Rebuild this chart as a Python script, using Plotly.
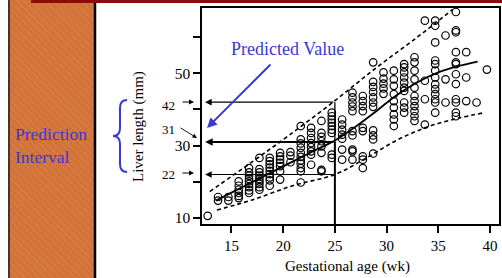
import plotly.graph_objects as go

W, H = 502, 278

# ---------------- data ----------------
scatter_weeks = [12.7, 13.7, 14.7, 15.7, 16.7, 17.7, 18.7, 19.7, 20.7, 21.7, 22.7, 23.7, 24.7, 25.7,
                 26.7, 27.7, 28.7, 29.7, 30.7, 31.7, 32.7, 33.7, 34.7, 35.7, 36.7, 37.7, 38.7, 39.7]
scatter_lengths = [
    [10.6],
    [15.8, 14.8],
    [15.8, 14.8],
    [20.1, 18.9, 17.8, 16.9, 16.1, 15.5],
    [23.8, 22.6, 21.7, 20.8, 20.1, 19.4, 18.5, 17.6, 16.9],
    [26.6, 23.5, 22.6, 21.7, 20.8, 20.1, 19.4, 18.5, 17.8],
    [26.6, 25.7, 24.8, 23.9, 23.0, 22.1, 21.2, 20.4, 18.9],
    [28.0, 27.0, 26.1, 25.2, 24.3, 22.9, 20.6],
    [28.2, 27.2, 25.4],
    [35.4, 31.7, 30.6, 29.4, 28.0, 26.9, 25.9, 25.0, 23.8, 22.9, 19.8],
    [34.9, 33.5, 32.1, 30.7, 29.6, 28.4, 27.5, 24.7],
    [36.8, 33.5, 32.4, 31.2, 29.8, 28.0, 23.3, 22.9],
    [39.1, 38.1, 37.2, 36.3, 35.4, 34.4, 33.5, 27.5, 26.6],
    [37.2, 35.8, 34.4, 33.0, 31.9, 28.9, 26.1],
    [44.6, 43.3, 41.9, 40.8, 39.5, 34.0, 32.8, 28.9, 28.4, 26.1],
    [43.7, 42.3, 40.9, 39.5, 34.9, 34.0, 27.0, 26.1, 23.8],
    [53.0, 47.6, 46.2, 44.8, 43.3, 41.9, 40.7, 34.2, 32.8, 31.7, 27.8],
    [50.2, 48.5, 47.1, 45.8, 44.3],
    [50.7, 48.3, 46.5, 44.2, 42.3, 40.5, 38.6, 37.2, 35.4],
    [52.5, 51.6, 50.2, 48.8, 47.4, 46.0, 45.1, 41.9, 40.5, 39.1],
    [54.4, 53.0, 50.7, 48.3, 46.0, 43.7, 42.3, 40.9, 39.5, 38.1, 36.8],
    [64.5, 47.9, 42.8, 35.8],
    [64.5, 63.1, 58.5, 53.5, 52.5, 50.7, 48.8, 46.9, 45.6, 44.2, 42.8, 41.9, 39.1],
    [60.4, 48.3, 41.9],
    [66.9, 61.8, 61.3, 55.8, 53.0, 52.5, 49.7, 47.0, 42.8, 41.9, 39.1, 38.1],
    [55.8, 48.8, 42.3],
    [41.9],
    [51.0],
]

fit_weeks = [13.5, 15, 17, 19, 21, 23, 25, 27, 29, 31, 33, 35, 37, 38.8]
fit_mm = [14.8, 17.0, 19.9, 22.8, 25.7, 28.6, 31.4, 35.2, 39.5, 44.0, 47.5, 50.2, 52.0, 53.2]

upper_weeks = [12.9, 17, 20.5, 25, 29, 33, 36.4]
upper_mm = [17.3, 25.5, 32.7, 42.4, 51.5, 60.0, 67.6]

lower_weeks = [13.6, 17, 21, 25, 28, 31, 34, 37, 39.3]
lower_mm = [12.2, 15.0, 19.0, 22.0, 26.5, 31.5, 35.2, 37.6, 39.0]

pred_week = 25
pred_value = 31
pred_low = 22
pred_high = 42

x_ticks = [15, 20, 25, 30, 35, 40]
y_ticks = [10, 20, 30, 40, 50, 60]
y_ticktext = ["10", "", "30", "", "50", ""]

# ---------------- helpers ----------------
def P(px):
    return px / W

def Q(py):
    return 1 - py / H

SERIF = "Liberation Serif, Times New Roman, serif"
BLUE = "#3a3ad2"

xs, ys = [], []
for wk, vals in zip(scatter_weeks, scatter_lengths):
    for v in vals:
        xs.append(wk)
        ys.append(v)

fig = go.Figure()

# hatched orange side panel (bar on a hidden axis)
fig.add_trace(go.Bar(x=[0], y=[1], width=[1], xaxis="x2", yaxis="y2",
                     marker=dict(color="#d2733a", line=dict(width=0),
                                 pattern=dict(shape="\\", fgcolor="#eab08a", fgopacity=0.45,
                                              size=5, solidity=0.12)),
                     hoverinfo="skip"))

# prediction bands
fig.add_trace(go.Scatter(x=upper_weeks, y=upper_mm, mode="lines", line_shape="spline",
                         line=dict(color="black", width=1.6, dash="4px,3px"), hoverinfo="skip"))
fig.add_trace(go.Scatter(x=lower_weeks, y=lower_mm, mode="lines", line_shape="spline",
                         line=dict(color="black", width=1.6, dash="4px,3px"), hoverinfo="skip"))
# fitted curve
fig.add_trace(go.Scatter(x=fit_weeks, y=fit_mm, mode="lines", line_shape="spline",
                         line=dict(color="black", width=1.8), hoverinfo="skip"))
# scatter points
fig.add_trace(go.Scatter(x=xs, y=ys, mode="markers",
                         marker=dict(symbol="circle-open", size=7.5, color="black",
                                     line=dict(width=1.2, color="black"))))

# vertical guide at predicted week
fig.add_trace(go.Scatter(x=[pred_week, pred_week], y=[8.0, pred_value], mode="lines",
                         line=dict(color="black", width=2), hoverinfo="skip"))
fig.add_trace(go.Scatter(x=[pred_week, pred_week], y=[pred_value, pred_high], mode="lines",
                         line=dict(color="black", width=1.3), hoverinfo="skip"))

annotations = []
# horizontal arrows from x=25 back to the y axis
for val, lw in [(pred_high, 1.1), (pred_value, 1.9), (pred_low, 1.1)]:
    annotations.append(dict(x=12.45, y=val, xref="x", yref="y", ax=pred_week, ay=val,
                            axref="x", ayref="y", text="", showarrow=True, arrowhead=2,
                            arrowsize=1.2 if lw < 1.5 else 0.8, arrowwidth=lw, arrowcolor="black"))

def label(px, py, text, size, color="black", xanchor="center", **kw):
    return dict(x=P(px), y=Q(py), xref="paper", yref="paper", text=text, showarrow=False,
                xanchor=xanchor, yanchor="middle",
                font=dict(family=SERIF, size=size, color=color), **kw)

def arrow(px, py, dx, dy, width=1, color="black"):
    return dict(x=P(px), y=Q(py), xref="paper", yref="paper", ax=dx, ay=dy, text="",
                showarrow=True, arrowhead=2, arrowsize=1, arrowwidth=width, arrowcolor=color)

annotations += [
    label(168.5, 105, str(pred_high), 13),
    arrow(194, 102, -13, 0),
    label(168.5, 129, str(pred_value), 13),
    arrow(197, 138, -18, -11, 0.9),
    label(168.5, 174, str(pred_low), 13),
    arrow(194, 173, -13, 0),
    # axis titles
    label(347, 266, "Gestational age (wk)", 15),
    label(138, 127, "Liver length (mm)", 15, textangle=-90),
    # blue callouts
    label(287, 49, "Predicted Value", 18, BLUE),
    arrow(207, 128, 65, -65, 2, BLUE),
    label(13, 145, "Prediction<br>Interval", 17.5, BLUE, xanchor="left", align="left"),
]

# brace path
def pt(px, py):
    return f"{P(px):.5f},{Q(py):.5f}"

brace = (f"M {pt(127,100)} Q {pt(120,100)} {pt(120,108)} L {pt(120,128)} "
         f"Q {pt(120,136)} {pt(113,136)} Q {pt(120,136)} {pt(120,144)} "
         f"L {pt(120,164)} Q {pt(120,172)} {pt(127,172)}")

shapes = [
    dict(type="path", xref="paper", yref="paper", path=brace, line=dict(color=BLUE, width=2)),
    # panel borders
    dict(type="line", xref="paper", yref="paper", x0=P(9), x1=P(9), y0=0, y1=1,
         line=dict(color="#4a3226", width=2)),
    dict(type="line", xref="paper", yref="paper", x0=P(95), x1=P(95), y0=0, y1=1,
         line=dict(color="black", width=2.5)),
    # dark red title strip
    dict(type="rect", xref="paper", yref="paper", x0=P(31), x1=1, y0=Q(3), y1=1,
         fillcolor="#8c0a0a", line=dict(width=0)),
]

fig.update_layout(
    width=W, height=H, margin=dict(l=0, r=0, t=0, b=0),
    paper_bgcolor="white", plot_bgcolor="white", showlegend=False,
    annotations=annotations, shapes=shapes,
    xaxis=dict(domain=[P(202), P(499)], range=[12.15, 40.87], tickvals=x_ticks,
               ticks="outside", ticklen=7, tickwidth=1.5, tickcolor="black",
               showline=True, mirror=True, linecolor="black", linewidth=1.5,
               showgrid=False, zeroline=False, automargin=False,
               tickfont=dict(family=SERIF, size=15, color="black")),
    yaxis=dict(domain=[Q(224), Q(8)], range=[8.34, 68.0], tickvals=y_ticks, ticktext=y_ticktext,
               ticks="outside", ticklen=7, tickwidth=1.5, tickcolor="black",
               showline=True, mirror=True, linecolor="black", linewidth=1.5,
               showgrid=False, zeroline=False, automargin=False,
               tickfont=dict(family=SERIF, size=15.5, color="black")),
    xaxis2=dict(domain=[P(9), P(95)], range=[-0.5, 0.5], visible=False, anchor="y2"),
    yaxis2=dict(domain=[0, 1], range=[0, 1], visible=False, anchor="x2"),
)

fig.write_html("out.html", config={"displayModeBar": False},
               post_script="document.body.style.margin='0';document.body.style.overflow='hidden';")
